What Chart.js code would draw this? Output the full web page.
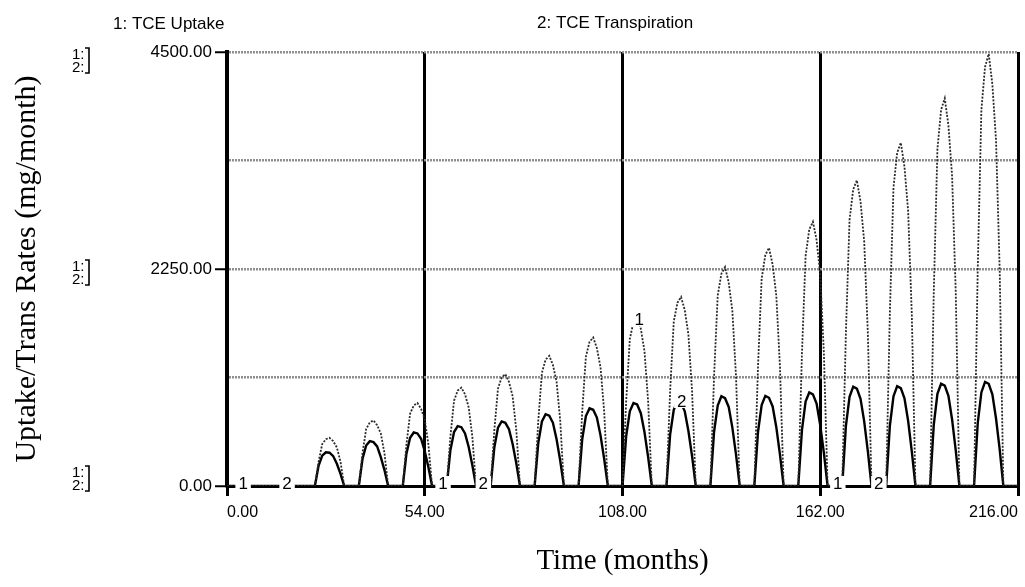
<!DOCTYPE html>
<html>
<head>
<meta charset="utf-8">
<script src="https://cdn.jsdelivr.net/npm/chart.js@4.4.1/dist/chart.umd.min.js"></script>
<style>
    html, body { margin: 0; padding: 0; background: #fff; }
</style>
</head>
<body>
<canvas id="grafico" width="1025" height="587"></canvas>
<script>
// months 0..216 (x categories)
const months = [];
for (let m = 0; m <= 216; m++) months.push(m);

// 1: TCE Uptake (mg/month), one row per year (12 months)
const tceUptake = [
    0, 0, 0, 0, 0, 0, 0, 0, 0, 0, 0, 0,
    0, 0, 0, 0, 0, 0, 0, 0, 0, 0, 0, 0,
    0, 250, 435, 485, 500, 465, 400, 250, 0, 0, 0, 0,
    0, 340, 590, 660, 680, 630, 545, 340, 0, 0, 0, 0,
    0, 430, 750, 835, 860, 800, 690, 430, 0, 0, 0, 0,
    0, 510, 885, 990, 1020, 950, 815, 510, 0, 0, 0, 0,
    0, 580, 1010, 1125, 1160, 1080, 930, 580, 0, 0, 0, 0,
    0, 675, 1175, 1310, 1350, 1255, 1080, 675, 0, 0, 0, 0,
    0, 770, 1340, 1495, 1540, 1430, 1230, 770, 0, 0, 0, 0,
    0, 875, 1525, 1700, 1750, 1630, 1400, 875, 0, 0, 0, 0,
    0, 980, 1705, 1900, 1960, 1825, 1570, 980, 0, 0, 0, 0,
    0, 1135, 1975, 2200, 2270, 2110, 1815, 1135, 0, 0, 0, 0,
    0, 1235, 2150, 2395, 2470, 2295, 1975, 1235, 0, 0, 0, 0,
    0, 1370, 2385, 2660, 2740, 2550, 2190, 1370, 0, 0, 0, 0,
    0, 1585, 2760, 3075, 3170, 2950, 2535, 1585, 0, 0, 0, 0,
    0, 1780, 3095, 3455, 3560, 3310, 2850, 1780, 0, 0, 0, 0,
    0, 2010, 3495, 3900, 4020, 3740, 3215, 2010, 0, 0, 0, 0,
    0, 2240, 3900, 4345, 4480, 4165, 3585, 2240, 0, 0, 0, 0,
    0
];

// 2: TCE Transpiration (mg/month)
const tceTranspiration = [
    0, 0, 0, 0, 0, 0, 0, 0, 0, 0, 0, 0,
    0, 0, 0, 0, 0, 0, 0, 0, 0, 0, 0, 0,
    0, 210, 315, 350, 345, 310, 230, 125, 0, 0, 0, 0,
    0, 280, 420, 465, 455, 410, 300, 165, 0, 0, 0, 0,
    0, 335, 500, 555, 545, 490, 360, 195, 0, 0, 0, 0,
    0, 370, 560, 620, 610, 545, 405, 215, 0, 0, 0, 0,
    0, 400, 605, 670, 655, 590, 435, 235, 0, 0, 0, 0,
    0, 445, 670, 745, 730, 655, 485, 260, 0, 0, 0, 0,
    0, 485, 725, 805, 790, 710, 525, 280, 0, 0, 0, 0,
    0, 515, 775, 860, 845, 755, 560, 300, 0, 0, 0, 0,
    0, 530, 790, 880, 860, 775, 570, 310, 0, 0, 0, 0,
    0, 560, 835, 930, 910, 820, 605, 325, 0, 0, 0, 0,
    0, 560, 840, 935, 915, 825, 610, 325, 0, 0, 0, 0,
    0, 580, 875, 970, 950, 855, 630, 340, 0, 0, 0, 0,
    0, 620, 925, 1030, 1010, 905, 670, 360, 0, 0, 0, 0,
    0, 620, 930, 1035, 1015, 910, 675, 360, 0, 0, 0, 0,
    0, 635, 955, 1060, 1040, 935, 690, 370, 0, 0, 0, 0,
    0, 650, 970, 1080, 1060, 950, 700, 380, 0, 0, 0, 0,
    0
];

const seriesNames = ['1: TCE Uptake', '2: TCE Transpiration'];
const yLabeledTicks = [0, 2250, 4500];

// curve number tags (time, value)
const curveTags = [
    { text: '1', t: 4.4, v: 0 }, { text: '2', t: 16.4, v: 0 },
    { text: '1', t: 59, v: 0 }, { text: '2', t: 70, v: 0 },
    { text: '1', t: 112.6, v: 1700 }, { text: '2', t: 124.2, v: 850 },
    { text: '1', t: 166.8, v: 0 }, { text: '2', t: 178, v: 0 }
];

const sansFont = "'Liberation Sans', Arial, sans-serif";
const serifFont = "'Liberation Serif', 'Times New Roman', serif";

const toPoints = (values) => values.map((v, i) => ({ x: months[i], y: v }));

// textos no estilo STELLA (cabeçalho, marcadores 1:] 2:] e números nas curvas)
const stellaText = {
    id: 'stellaText',
    afterDatasetsDraw(chart) {
        const ctx = chart.ctx;
        const xs = chart.scales.x;
        const ys = chart.scales.y;
        ctx.save();
        ctx.fillStyle = '#000';
        ctx.textBaseline = 'alphabetic';
        ctx.font = '17px ' + sansFont;
        ctx.fillText(seriesNames[0], 113, 29);
        ctx.fillText(seriesNames[1], 537, 28);

        // 1:] 2:] markers beside each labelled tick
        ctx.font = '15px ' + sansFont;
        const groups = [60, 272, 478];
        groups.forEach(cy => {
            ctx.fillText('1:', 72, cy - 1);
            ctx.fillText('2:', 72, cy + 12);
            ctx.lineWidth = 1.6;
            ctx.strokeStyle = '#000';
            ctx.beginPath();
            ctx.moveTo(85, cy - 12);
            ctx.lineTo(89, cy - 12);
            ctx.lineTo(89, cy + 13);
            ctx.lineTo(85, cy + 13);
            ctx.stroke();
        });

        ctx.font = '17px ' + sansFont;
        ctx.textAlign = 'center';
        ctx.textBaseline = 'middle';
        curveTags.forEach(tag => {
            const px = xs.getPixelForValue(tag.t);
            const py = ys.getPixelForValue(tag.v) - 2;
            const w = ctx.measureText(tag.text).width;
            ctx.fillStyle = '#fff';
            ctx.fillRect(px - w / 2 - 3, py - 8, w + 6, 14);
            ctx.fillStyle = '#000';
            ctx.fillText(tag.text, px, py);
        });
        ctx.restore();
    }
};

const ctx = document.getElementById('grafico').getContext('2d');

new Chart(ctx, {
    type: 'line',
    data: {
        datasets: [
            {
                label: seriesNames[0],
                data: toPoints(tceUptake),
                borderColor: '#2a2a2a',
                borderWidth: 1.8,
                borderDash: [2, 1.5],
                pointRadius: 0,
                tension: 0,
                fill: false
            },
            {
                label: seriesNames[1],
                data: toPoints(tceTranspiration),
                borderColor: '#000',
                borderWidth: 2.4,
                pointRadius: 0,
                tension: 0,
                fill: false
            }
        ]
    },
    options: {
        responsive: false,
        animation: false,
        devicePixelRatio: 1,
        layout: { padding: { top: 52, right: 7, bottom: 0, left: 0 } },
        plugins: {
            legend: { display: false },
            tooltip: { enabled: false }
        },
        scales: {
            x: {
                type: 'linear',
                min: 0,
                max: 216,
                afterFit: (scale) => {
                    scale.height = 101;
                    scale.paddingLeft = 0;
                    scale.paddingRight = 0;
                },
                ticks: {
                    stepSize: 54,
                    align: 'inner',
                    padding: 7,
                    maxRotation: 0,
                    color: '#000',
                    font: { family: sansFont, size: 16 },
                    callback: (value) => value.toFixed(2)
                },
                grid: {
                    color: '#000',
                    lineWidth: 3,
                    tickLength: 10,
                    tickWidth: 3,
                    tickColor: '#000'
                },
                border: { color: '#000', width: 3 },
                title: {
                    display: true,
                    text: 'Time (months)',
                    color: '#000',
                    font: { family: serifFont, size: 29 },
                    padding: { top: 0, bottom: 8 }
                }
            },
            y: {
                min: 0,
                max: 4500,
                afterFit: (scale) => {
                    scale.width = 227;
                    scale.paddingTop = 0;
                    scale.paddingBottom = 0;
                },
                ticks: {
                    stepSize: 1125,
                    padding: 3,
                    color: '#000',
                    font: { family: sansFont, size: 17 },
                    callback: (value) => yLabeledTicks.includes(value) ? value.toFixed(2) : ''
                },
                grid: {
                    color: (c) => (c.tick && c.tick.value === 0) ? 'rgba(0,0,0,0)' : '#8f8f8f',
                    lineWidth: 2.5,
                    tickLength: 12,
                    tickWidth: 2,
                    tickColor: (c) => (c.tick && yLabeledTicks.includes(c.tick.value)) ? '#000' : 'rgba(0,0,0,0)'
                },
                border: { color: '#000', width: 4, dash: [2, 1] },
                title: {
                    display: true,
                    text: 'Uptake/Trans Rates (mg/month)',
                    color: '#000',
                    font: { family: serifFont, size: 30 },
                    padding: { top: 9, bottom: 0 }
                }
            }
        }
    },
    plugins: [stellaText]
});
</script>
</body>
</html>
